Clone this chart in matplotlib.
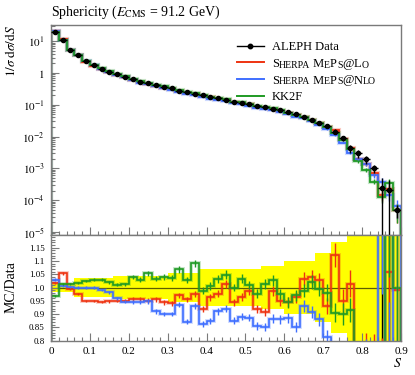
import numpy as np
import matplotlib
matplotlib.use("Agg")
import matplotlib.pyplot as plt
from matplotlib.lines import Line2D
from matplotlib.ticker import MultipleLocator, LogLocator, FixedLocator, FixedFormatter, FuncFormatter, NullFormatter

plt.rcParams['font.family'] = ['Liberation Serif', 'DejaVu Serif']
plt.rcParams['mathtext.fontset'] = 'stix'

# ---------------- data ----------------
bin_edges = np.round(np.arange(0.0, 0.9001, 0.02), 2)

aleph = [20.0, 11.0, 5.3, 3.7, 2.4, 1.75, 1.37, 1.10, 0.93, 0.77,
         0.63, 0.53, 0.47, 0.42, 0.37, 0.33, 0.28, 0.25, 0.22, 0.20,
         0.18, 0.16, 0.14, 0.126, 0.115, 0.104, 0.093, 0.085, 0.076, 0.068,
         0.060, 0.050, 0.041, 0.033, 0.027, 0.021, 0.0143, 0.0089, 0.0043, 0.0030,
         0.00195, 0.0010, 0.00025, 0.00021, 4.9e-5]

aleph_relerr = [0.018, 0.018, 0.018, 0.035, 0.035, 0.035, 0.035, 0.035, 0.045, 0.045,
                0.045, 0.045, 0.045, 0.045, 0.045, 0.055, 0.055, 0.055, 0.055, 0.07,
                0.07, 0.07, 0.07, 0.07, 0.07, 0.07, 0.07, 0.08, 0.08, 0.08,
                0.10, 0.10, 0.10, 0.10, 0.13, 0.13, 0.17, 0.17, 0.30, 0.30,
                0.30, 0.30, 0.999, 0.999, 0.45]

ratio_lo = [1.018, 1.053, 0.995, 0.975, 0.95, 0.948, 0.945, 0.948, 0.95, 0.95,
            0.955, 0.955, 0.95, 0.955, 0.945, 0.94, 0.97, 0.955, 0.975, 0.92,
            0.963, 0.976, 1.014, 0.944, 0.963, 0.988, 0.918, 0.908, 0.988, 0.95,
            0.946, 0.963, 1.033, 1.04, 1.027, 0.93, 1.123, 0.95, 1.014, 0.68,
            0.72, 0.70, 0.60, 1.06, 0.99]

ratio_nlo = [1.03, 1.005, 1.003, 1.0, 1.0, 1.0, 0.99, 0.982, 0.96, 0.947,
             0.947, 0.945, 0.948, 0.91, 0.90, 0.90, 0.935, 0.87, 0.93, 0.862,
             0.873, 0.91, 0.92, 0.875, 0.89, 0.886, 0.856, 0.85, 0.882, 0.88,
             0.884, 0.85, 0.93, 0.907, 0.88, 0.812, 0.76, 0.72, 0.70, 0.65,
             0.70, 0.60, 1.50, 0.70, 1.30]

ratio_kk2f = [0.969, 1.014, 1.014, 1.018, 1.024, 1.03, 1.03, 1.02, 1.01, 1.012,
              1.04, 1.03, 1.053, 1.033, 1.04, 1.035, 1.068, 1.03, 1.091, 0.988,
              1.005, 1.033, 1.049, 1.0, 1.033, 1.01, 0.976, 1.014, 1.027, 0.976,
              0.944, 0.97, 0.988, 1.02, 0.995, 0.98, 0.905, 0.90, 0.915, 0.55,
              0.45, 0.38, 0.50, 1.60, 1.0]

mc_relerr = [0.004, 0.004, 0.004, 0.004, 0.004, 0.004, 0.005, 0.005, 0.006, 0.006,
             0.008, 0.008, 0.009, 0.009, 0.010, 0.010, 0.011, 0.011, 0.012, 0.013,
             0.014, 0.014, 0.015, 0.015, 0.016, 0.016, 0.017, 0.018, 0.019, 0.020,
             0.021, 0.022, 0.024, 0.026, 0.028, 0.032, 0.040, 0.045, 0.05, 0.12,
             0.15, 0.18, 0.35, 0.35, 0.6]

xticks = [0.0, 0.1, 0.2, 0.3, 0.4, 0.5, 0.6, 0.7, 0.8, 0.9]
xticklabels = ['0', '0.1', '0.2', '0.3', '0.4', '0.5', '0.6', '0.7', '0.8', '0.9']
rticks = [0.8, 0.85, 0.9, 0.95, 1.0, 1.05, 1.1, 1.15]
rticklabels = ['0.8', '0.85', '0.9', '0.95', '1.0', '1.05', '1.1', '1.15']

C_RED = '#ee3311'
C_BLUE = '#3f6fff'
C_GREEN = '#1f9a24'
SPINE = '#7a7a7a'

edges = bin_edges
centers = 0.5 * (edges[:-1] + edges[1:])
halfw = 0.5 * np.diff(edges)
aleph = np.array(aleph)
aleph_relerr = np.array(aleph_relerr)
mc_relerr = np.array(mc_relerr)

series = [(np.array(ratio_lo), C_RED), (np.array(ratio_nlo), C_BLUE), (np.array(ratio_kk2f), C_GREEN)]

# ---------------- figure ----------------
W, H = 415, 375
fig = plt.figure(figsize=(W / 100, H / 100), dpi=100)
L, R = 51, 401
ax = fig.add_axes([L / W, 1 - 234.5 / H, (R - L) / W, (234.5 - 25) / H])
rax = fig.add_axes([L / W, 1 - 340.5 / H, (R - L) / W, (340.5 - 234.5) / H])

def style(a, ylabsize=8):
    for s in a.spines.values():
        s.set_color(SPINE)
        s.set_linewidth(1.0)
    a.tick_params(which='both', direction='in', color=SPINE, width=0.8,
                  top=False, right=False, labelsize=8, pad=4.5)
    a.tick_params(axis='y', labelsize=ylabsize)
    a.tick_params(which='major', length=6)
    a.tick_params(which='minor', length=3.2)

# ---- main panel ----
for ratio, c in series:
    vals = aleph * ratio
    ax.stairs(vals, edges, color=c, lw=3.0, alpha=0.25, zorder=2)
    ax.stairs(vals, edges, color=c, lw=1.3, zorder=2.1)
    ax.errorbar(centers, vals, yerr=vals * mc_relerr, fmt='none', ecolor=c,
                elinewidth=1.0, zorder=2.2)
ax.errorbar(centers, aleph, yerr=aleph * aleph_relerr, xerr=halfw, fmt='o', ms=3.0,
            color='k', ecolor='k', elinewidth=1.0, capsize=0, zorder=4)

ax.set_yscale('log')
ax.set_xlim(edges[0], edges[-1])
ax.set_ylim(10 ** -5.08, 10 ** 1.51)
ax.xaxis.set_major_locator(FixedLocator(xticks))
ax.xaxis.set_minor_locator(MultipleLocator(0.02))
ax.xaxis.set_major_formatter(NullFormatter())
ax.yaxis.set_major_locator(LogLocator(base=10, numticks=20))
ax.yaxis.set_minor_locator(LogLocator(base=10, subs=np.arange(2, 10), numticks=20))
ax.yaxis.set_minor_formatter(NullFormatter())

def logfmt(v, pos):
    e = int(round(np.log10(v)))
    return '$1$' if e == 0 else '$10^{%d}$' % e
ax.yaxis.set_major_formatter(FuncFormatter(logfmt))
style(ax)

# legend
handles = [Line2D([], [], color='k', marker='o', ms=3.2, lw=1.0),
           Line2D([], [], color=C_RED, lw=1.4),
           Line2D([], [], color=C_BLUE, lw=1.4),
           Line2D([], [], color=C_GREEN, lw=1.4)]
labels = ['ALEPH Data', 'S', 'S', 'KK2F']
leg = ax.legend(handles, labels, loc='upper left',
                bbox_to_anchor=((237 - L) / (R - L), 1 - (41 - 25) / 209.5),
                frameon=False, fontsize=9, borderpad=0, borderaxespad=0,
                handlelength=2.15, handletextpad=0.62, labelspacing=0.38, numpoints=1)

BIG, SMALL = 9, 7
def chain(prev, chunks):
    for txt, size in chunks:
        prev = ax.annotate(txt, xy=(1, 0), xycoords=prev, va='bottom', ha='left',
                           fontsize=size, zorder=10)
    return prev

texts = leg.get_texts()
chain(texts[1], [('HERPA', SMALL), (' M', BIG), ('E', SMALL), ('P', BIG), ('S', SMALL),
                 ('@', BIG), ('L', BIG), ('O', SMALL)])
chain(texts[2], [('HERPA', SMALL), (' M', BIG), ('E', SMALL), ('P', BIG), ('S', SMALL),
                 ('@', BIG), ('N', BIG), ('LO', SMALL)])

# ---- ratio panel ----
rax.stairs(1 + aleph_relerr, edges, baseline=1 - aleph_relerr, fill=True,
           color='#ffff00', lw=0, zorder=1)
rax.axhline(1.0, color='#5e5e00', lw=0.9, zorder=1.5)
big = aleph_relerr > 0.5
rax.errorbar(centers[big], np.ones(big.sum()), yerr=aleph_relerr[big], fmt='none',
             ecolor='k', elinewidth=1.0, zorder=1.6)
for ratio, c in series:
    rax.stairs(ratio, edges, color=c, lw=2.8, alpha=0.25, zorder=2)
    rax.stairs(ratio, edges, color=c, lw=1.2, zorder=2.1)
    rax.errorbar(centers, ratio, yerr=ratio * mc_relerr, fmt='none', ecolor=c,
                 elinewidth=1.0, zorder=2.2)

rax.set_xlim(edges[0], edges[-1])
rax.set_ylim(0.8, 1.2)
rax.xaxis.set_major_locator(FixedLocator(xticks))
rax.xaxis.set_major_formatter(FixedFormatter(xticklabels))
rax.xaxis.set_minor_locator(MultipleLocator(0.02))
rax.yaxis.set_major_locator(FixedLocator(rticks))
rax.yaxis.set_major_formatter(FixedFormatter(rticklabels))
rax.yaxis.set_minor_locator(MultipleLocator(0.01))
style(rax, ylabsize=6.5)

# ---- labels ----
fig.text(L / W, 1 - 16 / H, r'Sphericity ($E_{\mathrm{CMS}}$ = 91.2 GeV)', fontsize=10,
         ha='left', va='baseline')
fig.text(11 / W, 1 - 25 / H, r'$1/\sigma\;\mathrm{d}\sigma/\mathrm{d}S$', rotation=90,
         ha='center', va='top', fontsize=9.5)
fig.text(11 / W, 1 - 287 / H, 'MC/Data', rotation=90, ha='center', va='center', fontsize=10)
fig.text(402 / W, 1 - 367 / H, '$S$', ha='right', va='baseline', fontsize=10)

fig.canvas.draw()
fig.savefig('out.png', dpi=100)
